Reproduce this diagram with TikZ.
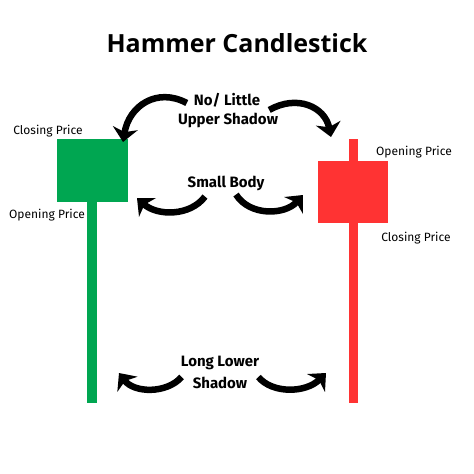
\documentclass[tikz,border=0pt]{standalone}
\usepackage{fontspec}
\setmainfont{Fira Sans}
\newfontfamily\titlefont{Open Sans}
\usetikzlibrary{arrows.meta}
\definecolor{bull}{RGB}{0,166,81}
\definecolor{bear}{RGB}{255,51,51}
\newcommand{\cG}{bull}
\newcommand{\cR}{bear}

\begin{document}
\begin{tikzpicture}[x=1pt,y=-1pt,
    bigarrow/.style={line width=6.5pt,-{Stealth[length=14pt,width=25pt,inset=4pt]}},
    lbl/.style={font=\bfseries\fontsize{15}{17}\selectfont,inner sep=1pt},
    price/.style={font=\fontsize{12}{14}\selectfont,inner sep=1pt}]
    \useasboundingbox[fill=white] (0,0) rectangle (474,474);
    % --- --- --- Title
    \node[font=\titlefont\bfseries\fontsize{25}{30}\selectfont] (title) at (237,43) {Hammer Candlestick};
    % --- --- --- Green hammer
    \fill[\cG] (87,202) rectangle (97,403);
    \fill[\cG] (57,139) rectangle (128,202);
    \node[price] (gclose) at (48,131) {Closing Price};
    \node[price] (gopen) at (47,215) {Opening Price};
    % --- --- --- Red hammer
    \fill[\cR] (349,139) rectangle (358,403);
    \fill[\cR] (318,161) rectangle (388,223);
    \node[price] (ropen) at (414,152) {Opening Price};
    \node[price] (rclose) at (416,238) {Closing Price};
    % --- --- --- Labels
    \node[lbl] (nolittle) at (227,100) {No/ Little};
    \node[lbl] (upper) at (228,120) {Upper Shadow};
    \node[lbl] (small) at (226,183) {Small Body};
    \node[lbl] (longlow) at (220,363) {Long Lower};
    \node[lbl] (shadow) at (220,383) {Shadow};
    % --- --- --- Arrow tips
    \coordinate (tipUL) at (123,142);
    \coordinate (tipUR) at (331,137);
    \coordinate (tipSL) at (137,198);
    \coordinate (tipSR) at (303,195);
    \coordinate (tipLL) at (119,373);
    \coordinate (tipLR) at (326,373);
    % === === === Arrows
    \draw[bigarrow] ([shift={(-6,3)}]nolittle.west) .. controls +(-30,-16) and +(6,-36) .. (tipUL);
    \draw[bigarrow] ([shift={(8,10)}]nolittle.east) .. controls +(28,-16) and +(-6,-30) .. (tipUR);
    \draw[bigarrow] ([shift={(-21,5)}]small.south) .. controls +(-15,20) and +(20,18) .. (tipSL);
    \draw[bigarrow] ([shift={(10,3)}]small.south) .. controls +(14,22) and +(-18,20) .. (tipSR);
    \draw[bigarrow] ([shift={(-10,-6)}]shadow.west) .. controls +(-15,17) and +(15,20) .. (tipLL);
    \draw[bigarrow] ([shift={(10,-6)}]shadow.east) .. controls +(14,17) and +(-20,20) .. (tipLR);
\end{tikzpicture}
\end{document}
